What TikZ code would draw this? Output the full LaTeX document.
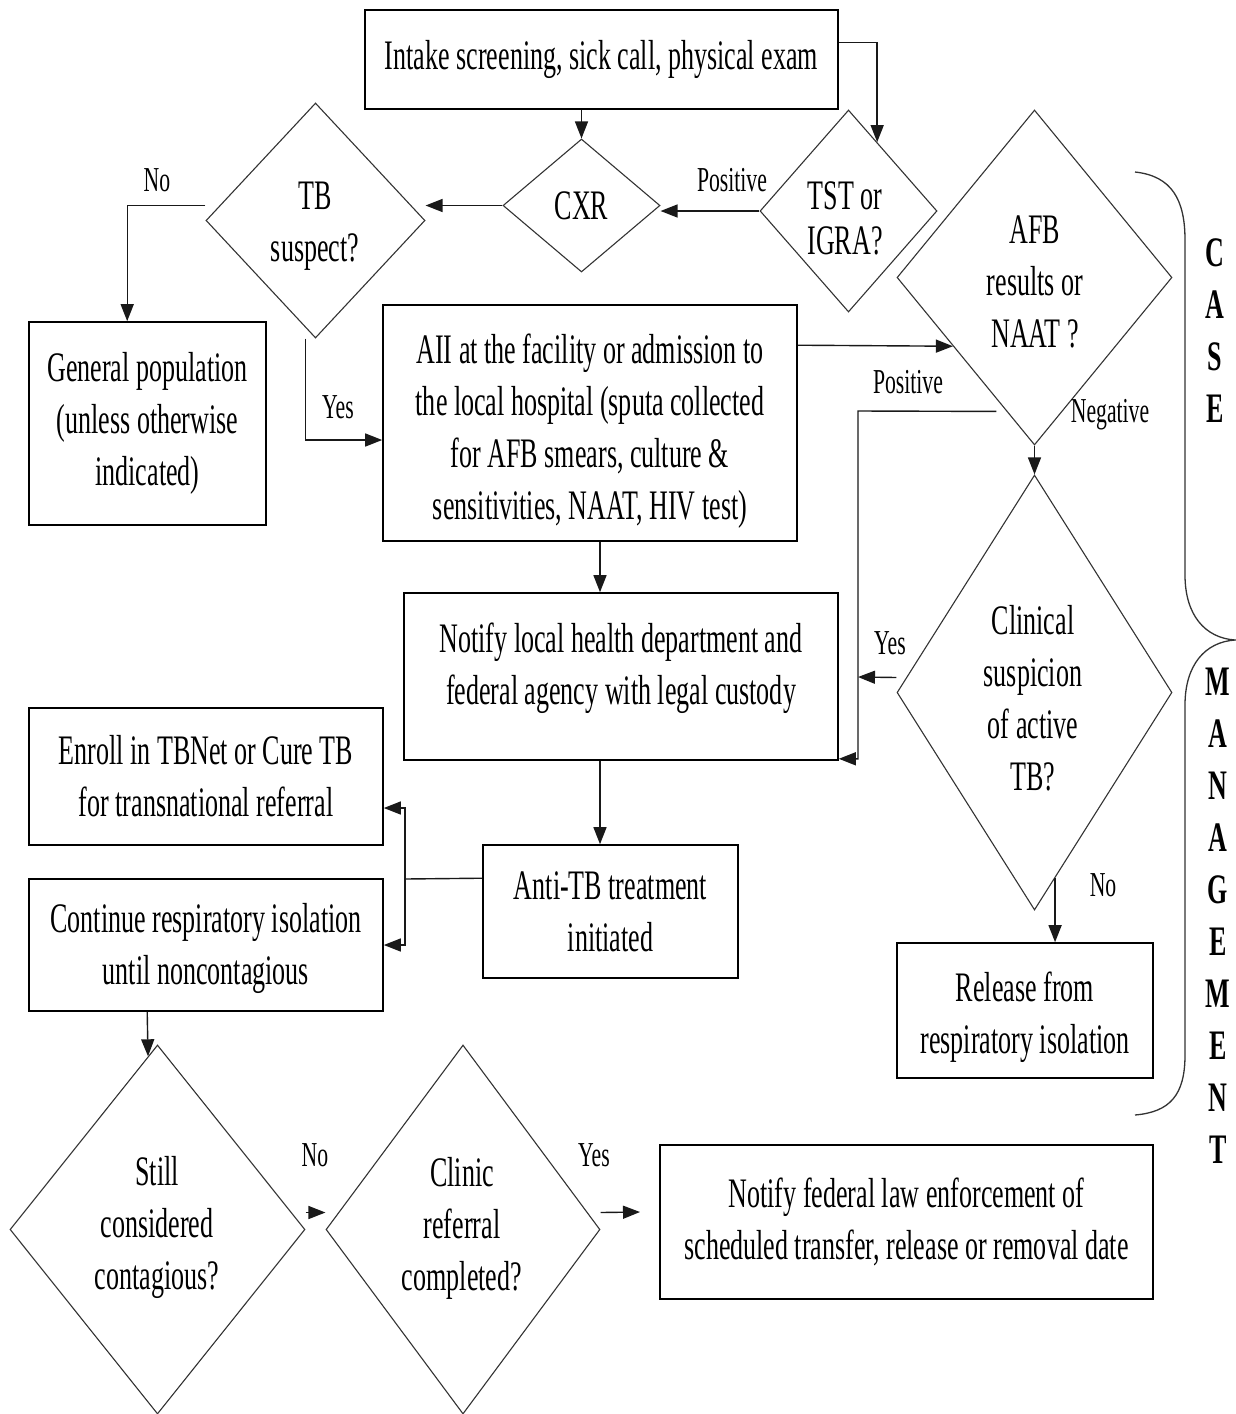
\documentclass[tikz,border=0pt]{standalone}
\usepackage{fontspec}
\setmainfont{Liberation Serif}[FakeStretch=0.62]
\usetikzlibrary{arrows.meta,shapes.geometric,calc}
\newcommand\bigtxt{\fontsize{42}{52}\selectfont}
\newcommand\lbltxt{\fontsize{35}{42}\selectfont}
\newcommand\sidetxt{\fontsize{42}{52}\selectfont\bfseries}
\begin{document}
\begin{tikzpicture}[x=1pt,y=-1pt,
  box/.style={draw=black, line width=1.6pt, inner sep=0pt, align=center, font=\bigtxt},
  dia/.style={draw=black!80, line width=1.1pt, diamond, inner sep=0pt},
  dtext/.style={align=center, font=\bigtxt, inner sep=0pt},
  lbl/.style={font=\lbltxt, inner sep=0pt},
  arr/.style={draw=black!90, line width=1.4pt, -{Triangle[length=17pt,width=13pt]}},
  conn/.style={draw=black!90, line width=1.4pt}
]
\useasboundingbox (0,0) rectangle (1236,1414);

% boxes
\node[box, minimum width=473, minimum height=99] (intake) at (601.5,59.5) {Intake screening, sick call, physical exam};
\node[box, minimum width=237, minimum height=203] (genpop) at (147.5,423.5) {General population\\(unless otherwise\\indicated)};
\node[box, minimum width=414, minimum height=236] (aii) at (590,423) {\rule{0pt}{45pt}AII at the facility or admission to\\the local hospital (sputa collected\\for AFB smears, culture \&\\sensitivities, NAAT, HIV test)};
\node[box, minimum width=434, minimum height=167] (notify) at (621,676.5) {Notify local health department and\\federal agency with legal custody\\[-26pt]};
\node[box, minimum width=354, minimum height=137] (enroll) at (206,776.5) {Enroll in TBNet or Cure TB\\for transnational referral};
\node[box, minimum width=255, minimum height=133] (anti) at (610.5,911.5) {Anti-TB treatment\\initiated};
\node[box, minimum width=354, minimum height=132] (cont) at (206,945) {\rule{0pt}{36pt}Continue respiratory isolation\\until noncontagious};
\node[box, minimum width=256, minimum height=135] (release) at (1025,1010.5) {\rule{0pt}{43pt}Release from\\respiratory isolation};
\node[box, minimum width=493, minimum height=154] (fed) at (906.5,1222) {Notify federal law enforcement of\\scheduled transfer, release or removal date};

% diamonds
\node[dia, minimum width=157, minimum height=133] (cxr) at (581.5,205.5) {};
\node[dia, minimum width=177, minimum height=202] (tst) at (848.5,211) {};
\node[dia, minimum width=219, minimum height=235] (tb) at (315.5,220.5) {};
\node[dia, minimum width=275, minimum height=335] (afb) at (1034.5,277.5) {};
\node[dia, minimum width=275, minimum height=435] (clin) at (1034.5,692.5) {};
\node[dia, minimum width=295, minimum height=369] (still) at (157.5,1229.5) {};
\node[dia, minimum width=274, minimum height=369] (clinic) at (463,1229.5) {};

% diamond texts
\node[dtext] (tcxr) at (cxr.center) {CXR};
\node[dtext] (ttst) at (845,218) {TST or\\[-7pt]IGRA?};
\node[dtext] (ttb) at (315,226) {TB\\suspect?};
\node[dtext] (tafb) at (1035,282) {AFB\\results or\\NAAT ?};
\node[dtext] (tclin) at (1033,698) {Clinical\\suspicion\\of active\\TB?};
\node[dtext] (tstill) at (157,1227) {Still\\considered\\contagious?};
\node[dtext] (tclinic) at (462,1228) {Clinic\\referral\\completed?};

% labels
\node[lbl] (lpos1) at (732,180) {Positive};
\node[lbl] (lno1) at (157,180) {No};
\node[lbl] (lyes1) at (338,407) {Yes};
\node[lbl] (lpos2) at (908,382) {Positive};
\node[lbl] (lneg) at (1110,415) {Negative};
\node[lbl] (lyes2) at (890,643) {Yes};
\node[lbl] (lno2) at (1103,885) {No};
\node[lbl] (lno3) at (315,1155) {No};
\node[lbl] (lyes3) at (594,1155) {Yes};

% side text
\node[font=\sidetxt, align=center, inner sep=0pt] (tcase) at (1215,331) {C\\A\\S\\E};
\node[font=\sidetxt, align=center, inner sep=0pt] (tman) at (1218,915.5) {M\\A\\N\\A\\G\\E\\M\\E\\N\\T};

% connectors
\draw[arr] (intake.south -| cxr.north) -- (cxr.north);
\coordinate (tstin) at ($(tst.north)!0.322!(tst.east)$);
\draw[arr] ($(intake.north east)+(0,33)$) -| (tstin);
\draw[arr] (tst.west) -- (tst.west -| cxr.east);
\draw[arr] (cxr.west) -- (cxr.west -| tb.east);
\draw[arr] ($(tb.west)+(0,-15)$) -| ($(genpop.north west)+(99,0)$);
\draw[arr] ($(tb.south)+(-10,0)$) |- ($(aii.west)+(0,17)$);
\draw[arr] ($(aii.north east)+(0,41)$) -- ($(afb.west)!0.409!(afb.south)$);
\coordinate (posturn) at (858,411);
\draw[arr] ($(afb.west)!0.797!(afb.south)+(-10,0)$) -- (posturn) |- ($(notify.south east)+(0,-2)$);
\draw[arr] (afb.south) -- (clin.north);
\coordinate (yesend) at (858,677);
\draw[arr] ($(clin.west)+(0,-15)$) -- (yesend);
\coordinate (nostart) at ($(clin.south)!0.149!(clin.east)$);
\draw[arr] (nostart) -- (nostart |- release.north);
\draw[arr] ($(aii.south)+(10,0)$) -- ($(notify.north)+(-21,0)$);
\draw[arr] ($(notify.south)+(-21,0)$) -- ($(anti.north)+(-10.5,0)$);
\coordinate (split) at (405,879);
\draw[conn] ($(anti.north west)+(0,34)$) -- (split);
\draw[arr] (split) |- ($(enroll.east)+(0,31.5)$);
\draw[arr] (split) |- (cont.east);
\draw[arr] ($(cont.south west)+(119,0)$) -- ($(still.north)!0.064!(still.west)$);
\draw[arr] ($(still.east)+(0,-17)$) -- ($(clinic.west)+(0,-17)$);
\coordinate (yes3end) at (640,1212);
\draw[arr] ($(clinic.east)+(0,-17)$) -- (yes3end);

% brace
\draw[black!80, line width=1.3pt] (1135,172) .. controls (1172,176) and (1185,200) .. (1185,240)
  -- (1185,575) .. controls (1185,615) and (1205,638) .. (1235,640)
  .. controls (1205,642) and (1185,665) .. (1185,705)
  -- (1185,1055) .. controls (1185,1095) and (1170,1112) .. (1135,1115);
\end{tikzpicture}
\end{document}
